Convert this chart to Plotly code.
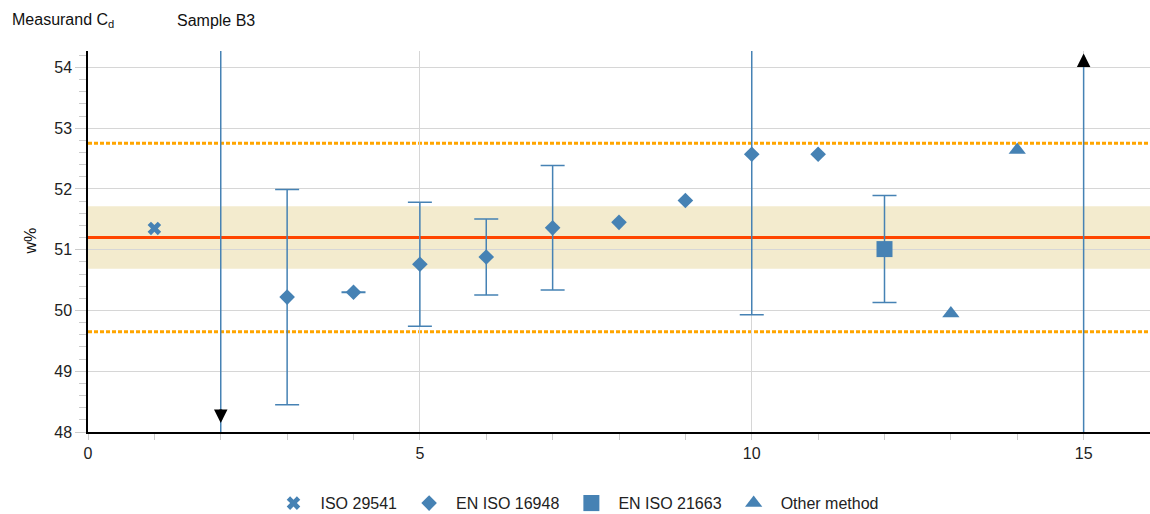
import plotly.graph_objects as go

# ---- data ----
iso29541_x = [1]
iso29541_y = [51.35]

en16948_x = [3, 4, 5, 6, 7, 8, 9, 10, 11]
en16948_y = [50.22, 50.30, 50.76, 50.88, 51.36, 51.45, 51.81, 52.57, 52.57]
en16948_err = [1.77, 0.005, 1.02, 0.625, 1.025, None, None, 2.64, None]

en21663_x = [12]
en21663_y = [51.01]
en21663_err = [0.88]

other_x = [13, 14]
other_y = [49.95, 52.64]

# off-scale results (value outside the y range, with uncertainty line)
offscale_x = [2, 15]
offscale_lo = [46.0, 46.0]
offscale_hi = [56.0, 54.2]
offscale_arrow_y = [48.15, 54.23]
offscale_dir = ["down", "up"]

assigned_value = 51.2
assigned_unc = 0.515
tolerance_lo = 49.65
tolerance_hi = 52.75

y_range = [48, 54.27]
x_range = [0, 16]

BLUE = "#4682b4"
FONT = "Arial, Liberation Sans, sans-serif"

fig = go.Figure()

# off-scale uncertainty lines
for xv, lo, hi in zip(offscale_x, offscale_lo, offscale_hi):
    fig.add_trace(go.Scatter(x=[xv, xv], y=[lo, hi], mode="lines",
                             line=dict(color=BLUE, width=1.5),
                             showlegend=False, hoverinfo="skip"))

err_style = dict(type="data", color=BLUE, thickness=1.5, width=12)

fig.add_trace(go.Scatter(
    x=iso29541_x, y=iso29541_y, mode="markers", name="ISO 29541",
    marker=dict(symbol="x", size=12, color=BLUE, line=dict(width=0))))

# EN ISO 16948: points with and without uncertainty
wx = [x for x, e in zip(en16948_x, en16948_err) if e is not None]
wy = [y for y, e in zip(en16948_y, en16948_err) if e is not None]
we = [e for e in en16948_err if e is not None]
nx = [x for x, e in zip(en16948_x, en16948_err) if e is None]
ny = [y for y, e in zip(en16948_y, en16948_err) if e is None]

fig.add_trace(go.Scatter(
    x=wx, y=wy, mode="markers", name="EN ISO 16948", legendgroup="d",
    marker=dict(symbol="diamond", size=12, color=BLUE, line=dict(width=0)),
    error_y=dict(array=we, **err_style)))
fig.add_trace(go.Scatter(
    x=nx, y=ny, mode="markers", name="EN ISO 16948", legendgroup="d",
    showlegend=False,
    marker=dict(symbol="diamond", size=12, color=BLUE, line=dict(width=0))))

fig.add_trace(go.Scatter(
    x=en21663_x, y=en21663_y, mode="markers", name="EN ISO 21663",
    marker=dict(symbol="square", size=16, color=BLUE, line=dict(width=0)),
    error_y=dict(array=en21663_err, **err_style)))

fig.add_trace(go.Scatter(
    x=other_x, y=other_y, mode="markers", name="Other method",
    marker=dict(symbol="triangle-up", size=15, color=BLUE, line=dict(width=0))))

# reference band and lines
fig.add_shape(type="rect", xref="paper", x0=0, x1=1,
              y0=assigned_value - assigned_unc, y1=assigned_value + assigned_unc,
              fillcolor="#f3ebce", line=dict(width=0), layer="below")
fig.add_shape(type="line", xref="paper", x0=0, x1=1,
              y0=assigned_value, y1=assigned_value,
              line=dict(color="#ff4500", width=3), layer="between")
for v in (tolerance_lo, tolerance_hi):
    fig.add_shape(type="line", xref="paper", x0=0, x1=1, y0=v, y1=v,
                  line=dict(color="#ffa500", width=3, dash="4px,2px"), layer="between")

# arrows for off-scale results
for xv, yv, d in zip(offscale_x, offscale_arrow_y, offscale_dir):
    fig.add_annotation(x=xv, y=yv, text="", showarrow=True, ax=0,
                       ay=-15 if d == "down" else 15,
                       arrowhead=2, arrowsize=0.9, arrowwidth=3, arrowcolor="black")

# titles
fig.add_annotation(xref="paper", yref="paper", x=-0.0734, y=1.081,
                   xanchor="left", yanchor="middle", showarrow=False,
                   text="Measurand C<sub>d</sub>", font=dict(size=16, color="#111"))
fig.add_annotation(xref="paper", yref="paper", x=0.0819, y=1.081,
                   xanchor="left", yanchor="middle", showarrow=False,
                   text="Sample B3", font=dict(size=16, color="#111"))
fig.add_annotation(xref="paper", yref="paper", x=-0.0546, y=0.5,
                   xanchor="center", yanchor="middle", showarrow=False,
                   textangle=-90, text="w%", font=dict(size=16, color="#111"))

fig.update_layout(
    width=1150, height=514,
    margin=dict(l=88, r=0, t=51, b=82),
    paper_bgcolor="white", plot_bgcolor="white",
    font=dict(family=FONT, size=16, color="#222"),
    legend=dict(orientation="h", xref="container", yref="container",
                x=0.5, xanchor="center", y=0.021, yanchor="middle",
                font=dict(size=16), itemclick=False, itemwidth=44),
    xaxis=dict(range=x_range, tickvals=[0, 5, 10, 15], showgrid=True,
               gridcolor="#d6d6d6", gridwidth=1, zeroline=False,
               showline=True, linecolor="black", linewidth=1.5,
               ticks="outside", ticklen=6, tickcolor="#cccccc",
               minor=dict(dtick=1, ticks="outside", ticklen=6,
                          tickcolor="#cccccc", showgrid=False)),
    yaxis=dict(range=y_range, dtick=1, tick0=48, showgrid=True,
               gridcolor="#d6d6d6", gridwidth=1, zeroline=False,
               showline=True, linecolor="black", linewidth=1.5,
               ticks="outside", ticklen=11, tickcolor="#cccccc",
               minor=dict(dtick=0.2, ticks="outside", ticklen=7,
                          tickcolor="#cccccc", showgrid=False)),
)

fig.write_html("out.html", config={"displayModeBar": False},
               post_script="document.body.style.margin='0';"
                           "document.body.style.overflow='hidden';")
